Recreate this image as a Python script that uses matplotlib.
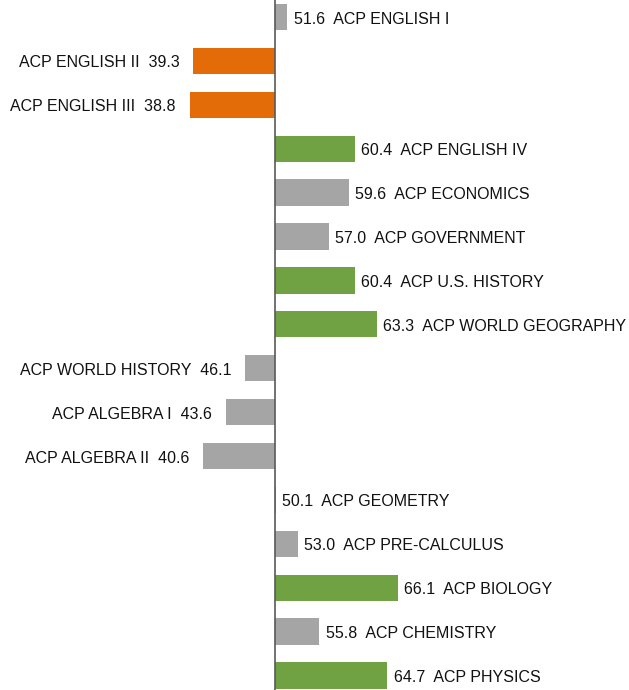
import matplotlib.pyplot as plt

plt.rcParams['font.family'] = ['Liberation Sans', 'DejaVu Sans']

courses = ['ACP ENGLISH I', 'ACP ENGLISH II', 'ACP ENGLISH III', 'ACP ENGLISH IV',
           'ACP ECONOMICS', 'ACP GOVERNMENT', 'ACP U.S. HISTORY', 'ACP WORLD GEOGRAPHY',
           'ACP WORLD HISTORY', 'ACP ALGEBRA I', 'ACP ALGEBRA II', 'ACP GEOMETRY',
           'ACP PRE-CALCULUS', 'ACP BIOLOGY', 'ACP CHEMISTRY', 'ACP PHYSICS']
scores = [51.6, 39.3, 38.8, 60.4, 59.6, 57.0, 60.4, 63.3,
          46.1, 43.6, 40.6, 50.1, 53.0, 66.1, 55.8, 64.7]
groups = ['mid', 'low', 'low', 'high', 'mid', 'mid', 'high', 'high',
          'mid', 'mid', 'mid', 'mid', 'mid', 'high', 'mid', 'high']
base = 50

palette = {'low': '#E36C09', 'mid': '#A5A5A5', 'high': '#70A244'}

fig = plt.figure(figsize=(6.29, 6.90), dpi=100)
ax = fig.add_axes([0, 0, 1, 1])

for i, (name, v, g) in enumerate(zip(courses, scores, groups)):
    ax.barh(i, v - base, left=base, height=0.6, color=palette[g])
    if v >= base:
        ax.annotate(f'{v:.1f}  {name}', (v, i), xytext=(4.5, -1.5), textcoords='offset points',
                    ha='left', va='center', fontsize=11.5, color='#111111')
    else:
        ax.annotate(f'{name}  {v:.1f}', (v, i), xytext=(-10, -1.5), textcoords='offset points',
                    ha='right', va='center', fontsize=11.5, color='#111111')

ax.axvline(base, color='#595959', lw=1.2)
ax.set_xlim(14.0, 96.3)
ax.set_ylim(15.33, -0.387)
ax.axis('off')

fig.savefig('out.png', dpi=100)
